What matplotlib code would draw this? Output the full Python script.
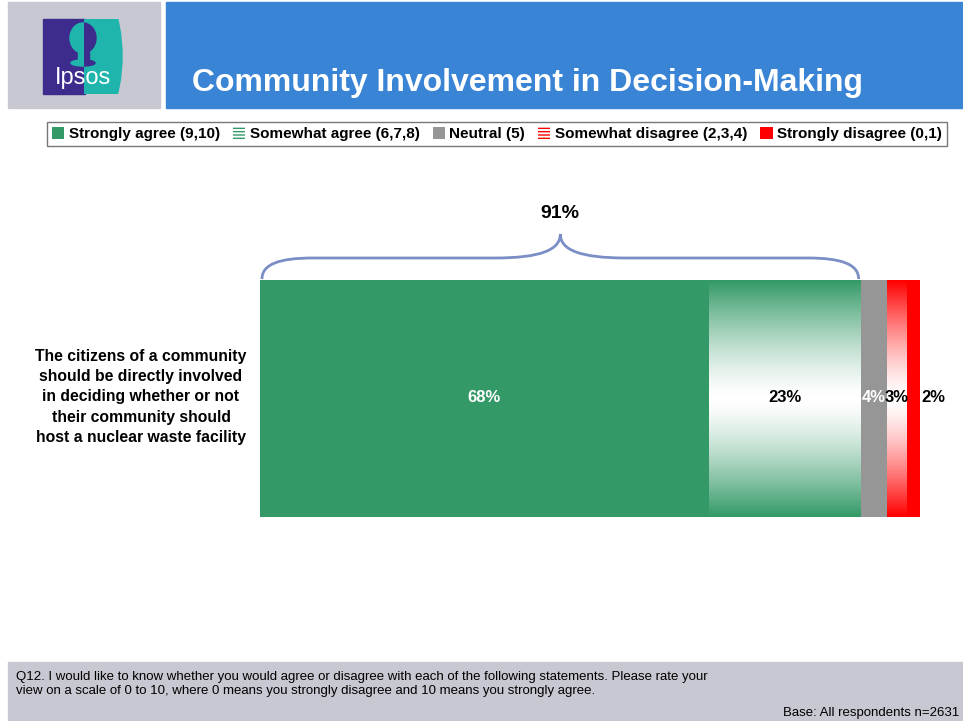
import numpy as np
import matplotlib.pyplot as plt
from matplotlib.patches import Rectangle, Ellipse, Patch, PathPatch
from matplotlib.path import Path
from matplotlib.colors import LinearSegmentedColormap

plt.rcParams['font.family'] = ['Liberation Sans', 'DejaVu Sans']

W, H = 963, 721

# survey results
categories = ['Strongly agree (9,10)', 'Somewhat agree (6,7,8)', 'Neutral (5)',
              'Somewhat disagree (2,3,4)', 'Strongly disagree (0,1)']
values = [68, 23, 4, 3, 2]
label_colors = ['white', 'black', 'white', 'black', 'black']
statement = ('The citizens of a community\nshould be directly involved\n'
             'in deciding whether or not\ntheir community should\n'
             'host a nuclear waste facility')
title = 'Community Involvement in Decision-Making'
question = ('Q12. I would like to know whether you would agree or disagree with each of the '
            'following statements. Please rate your\nview on a scale of 0 to 10, where 0 means '
            'you strongly disagree and 10 means you strongly agree.')
base_note = 'Base: All respondents n=2631'

green = '#339966'
red = '#ff0000'
grey = '#969696'
colors = [green, green, grey, red, red]
gradient_segments = [1, 3]

fig = plt.figure(figsize=(W / 100, H / 100), dpi=100)

# page furniture in pixel units
bg = fig.add_axes([0, 0, 1, 1])
bg.set_xlim(0, W)
bg.set_ylim(H, 0)
bg.axis('off')
bg.add_patch(Rectangle((8, 2), 152, 106, color='#c8c8d2'))
bg.add_patch(Rectangle((166, 2), W - 166, 106, color='#3a84d6'))
bg.text(528, 83, title, color='white', fontsize=23, fontweight='bold',
        ha='center', va='center')

# logo
purple = '#3d2b8e'
teal = '#1fb5ad'
bg.add_patch(Rectangle((43, 19), 42, 75, color=purple))
right_clip = Rectangle((84, 19), 40, 75, transform=bg.transData)
left_clip = Rectangle((43, 19), 41, 75, transform=bg.transData)
t = bg.add_patch(Ellipse((84, 56), 76, 160, color=teal))
t.set_clip_path(right_clip)
for clip, col in [(left_clip, teal), (right_clip, purple)]:
    head = bg.add_patch(Ellipse((83, 38), 26, 30, color=col))
    head.set_clip_path(clip)
    neck = bg.add_patch(Rectangle((78, 48), 11, 14, color=col))
    neck.set_clip_path(clip)
    shoulders = bg.add_patch(Ellipse((83, 63), 24, 6, color=col))
    shoulders.set_clip_path(clip)
bg.text(83, 78, 'Ipsos', color='white', fontsize=17, ha='center', va='center')

# footer
bg.add_patch(Rectangle((8, 662), W - 8, 59, color='#c8c8d2'))
bg.text(16, 684, question, fontsize=9.5, va='center', ha='left', linespacing=1.15)
bg.text(959, 713, base_note, fontsize=9.5, va='center', ha='right')

# statement label
bg.text(141, 397, statement, fontsize=11.3, fontweight='bold', ha='center',
        va='center', linespacing=1.45)

# stacked bar, y axis in pixel rows
ax = fig.add_axes([260 / W, 1 - 540 / H, 660 / W, 360 / H])
lefts = np.concatenate([[0], np.cumsum(values)[:-1]])
bars = ax.barh(398.5, values, left=lefts, height=237, color=colors, linewidth=0)

for i in gradient_segments:
    bar = bars[i]
    bar.set_facecolor('none')
    cmap = LinearSegmentedColormap.from_list('fade', ['white', colors[i]])
    grad = np.abs(np.linspace(-1, 1, 256)) ** 1.4
    img = ax.imshow(grad[:, None], extent=[lefts[i], lefts[i] + values[i], 517, 280],
                    aspect='auto', cmap=cmap, vmin=0, vmax=1, interpolation='bilinear')
    img.set_clip_path(bar)

ax.set_xlim(0, 100)
ax.set_ylim(540, 180)
ax.axis('off')

for i, (v, l, c) in enumerate(zip(values, lefts, label_colors)):
    x = l + v / 2 if i < len(values) - 1 else l + v + 2
    ax.text(x, 398, f'{v}%', color=c, fontsize=12, fontweight='bold',
            ha='center', va='center', clip_on=False)

# brace over the combined agree share
net_agree = values[0] + values[1]
mid = net_agree / 2
y0, yb, yt = 279, 258, 234
verts = [(0.3, y0), (0.3, 264), (3, yb), (8, yb),
         (mid - 10, yb),
         (mid - 3, yb), (mid, 250), (mid, yt),
         (mid, 250), (mid + 3, yb), (mid + 10, yb),
         (net_agree - 8, yb),
         (net_agree - 3, yb), (net_agree - 0.3, 264), (net_agree - 0.3, y0)]
codes = ([Path.MOVETO] + [Path.CURVE4] * 3 + [Path.LINETO] + [Path.CURVE4] * 6
         + [Path.LINETO] + [Path.CURVE4] * 3)
ax.add_patch(PathPatch(Path(verts, codes), facecolor='none', edgecolor='#7b8fc6',
                       linewidth=2, clip_on=False))
ax.text(mid, 213, f'{net_agree}%', fontsize=14, fontweight='bold',
        ha='center', va='center')

# legend
handles = []
for i, (cat, col) in enumerate(zip(categories, colors)):
    if i in gradient_segments:
        handles.append(Patch(facecolor='white', edgecolor=col, hatch='-----', linewidth=0))
    else:
        handles.append(Patch(facecolor=col, linewidth=0))
leg = fig.legend(handles, categories, loc='center', bbox_to_anchor=(497 / W, 1 - 134 / H),
                 ncol=5, prop={'weight': 'bold', 'size': 11},
                 handlelength=0.8, handleheight=0.8, handletextpad=0.3,
                 columnspacing=0.85, fancybox=False, borderpad=0.3, borderaxespad=0)
leg.get_frame().set_edgecolor('#555555')
leg.get_frame().set_linewidth(1)

fig.savefig('out.png', dpi=100)
